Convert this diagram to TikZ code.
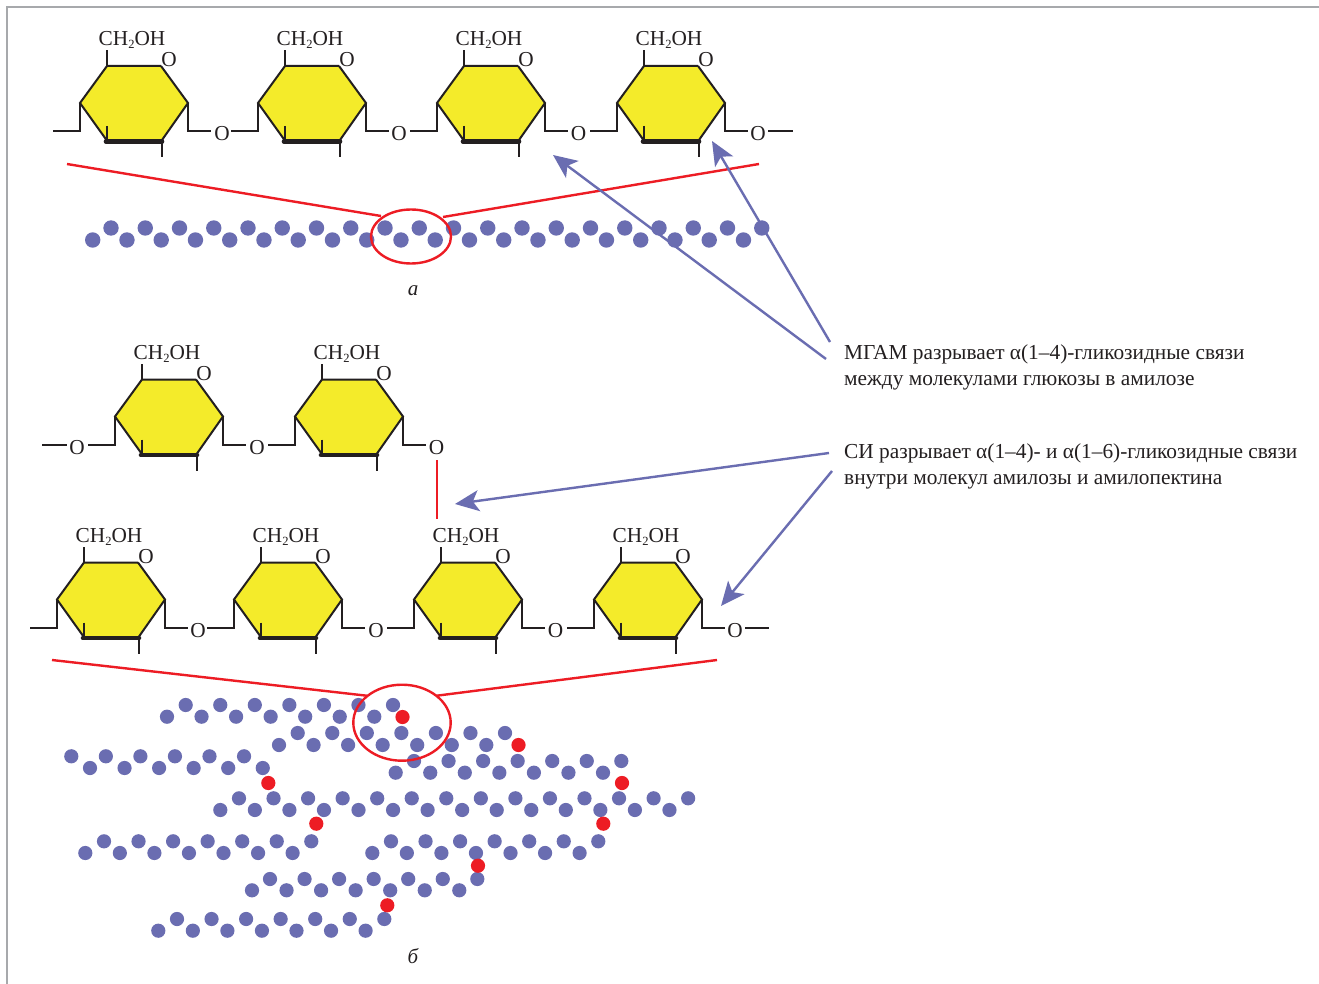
\documentclass[tikz,border=0pt]{standalone}
\usepackage{fontspec}
\setmainfont{Liberation Serif}
\usetikzlibrary{arrows.meta}
\definecolor{ink}{HTML}{231F20}
\definecolor{hexy}{HTML}{F4EB2A}
\definecolor{chred}{HTML}{ED1C24}
\definecolor{chblue}{HTML}{6A6DB1}
\definecolor{framegrey}{HTML}{A7A9AC}
\tikzset{
  bond/.style={draw=ink,line width=2pt,line join=miter},
  chemlabel/.style={inner sep=0pt,text=ink,font=\fontsize{21.3}{24}\selectfont,anchor=base},
  caption/.style={inner sep=0pt,text=ink,font=\fontsize{21.35}{24}\selectfont,anchor=base west},
  figtag/.style={inner sep=0pt,text=ink,font=\fontsize{21}{24}\selectfont\itshape,anchor=base},
  redline/.style={draw=chred,line width=2.4pt},
  pointer/.style={draw=chblue,line width=2.4pt,-{Stealth[length=24pt,width=21pt,inset=6pt]}},
  glc/.style={fill=chblue,draw=none},
  cut/.style={fill=chred,draw=none}
}
% ring with left edge at x=#1, vertical shift #2
\newcommand{\ring}[2]{%
 \begin{scope}[shift={(#1,#2)}]
  \fill[hexy] (27,66)--(81,66)--(108,103)--(82,140)--(26,140)--(0,103)--cycle;
  \draw[bond] (81,66)--(27,66)--(0,103)--(26.5,140);
  \draw[bond] (81,66)--(108,103)--(82,140);
  \draw[bond] (27,66)--(27,50);
  \draw[bond] (0,103)--(0,131)--(-27,131);
  \draw[bond] (26.5,126)--(26.5,141);
  \draw[bond] (82,140)--(82,157);
  \draw[bond] (108,103)--(108,131)--(131,131);
  \draw[draw=ink,line width=4.6pt,line cap=round] (26,141.5)--(82,141.5);
  \node[chemlabel] at (52,45.5) {CH\lower3.2pt\hbox{\fontsize{12.5}{12}\selectfont 2}OH};
  \node[chemlabel] at (89,67) {O};
 \end{scope}}
\newcommand{\bridgeO}[2]{\node[chemlabel] at (#1,#2) {O};}
% zigzag: #1 first x, #2 y, #3 count
\newcommand{\beads}[3]{\foreach \k in {1,...,#3}{\fill[glc] ({#1+34.55*(\k-1)},#2) circle (7.1);}}
\begin{document}
\begin{tikzpicture}[x=1pt,y=-1pt]
\useasboundingbox (0,0) rectangle (1319,984);
\fill[white] (0,0) rectangle (1319,984);
\draw[framegrey,line width=2.2pt] (7,984)--(7,6.8)--(1319,6.8);

% row a
\foreach \L in {80,258,437,617}{\ring{\L}{0}}
\foreach \X in {222,399,578.5,758}{\bridgeO{\X}{140.5}}
\draw[bond] (768,131)--(793,131);

% red zoom lines and chain a
\coordinate (aL0) at (67,164); \coordinate (aL1) at (381,216);
\coordinate (aR0) at (759,164); \coordinate (aR1) at (443,217);
\draw[redline] (aL0)--(aL1);
\draw[redline] (aR0)--(aR1);
\foreach \k in {0,...,19}{
  \fill[glc] ({92.7+34.25*\k},240) circle (7.7);
  \fill[glc] ({111+34.25*\k},228) circle (7.7);
}
\draw[redline] (411,236.5) ellipse (40 and 27);
\node[figtag] (taga) at (413,295) {а};

% row middle
\draw[bond] (42,444.5)--(67,444.5);
\bridgeO{77}{454}
\ring{115}{313.5}
\bridgeO{257}{454}
\ring{295}{313.5}
\node[chemlabel] (linkO) at (436.5,454) {O};
\coordinate (linkTop) at (437,460);
\coordinate (linkBot) at (437,519);
\draw[draw=chred,line width=2pt] (linkTop)--(linkBot);

% row lower
\foreach \L in {57,234,414,594}{\ring{\L}{496.5}}
\foreach \X in {198,376,555.5,735}{\bridgeO{\X}{637}}
\draw[bond] (745,627.5)--(769,627.5);

% red zoom lines b
\coordinate (bL0) at (52,660); \coordinate (bL1) at (366.7,695.7);
\coordinate (bR0) at (717,660); \coordinate (bR1) at (436.7,695.7);
\draw[redline] (bL0)--(bL1);
\draw[redline] (bR0)--(bR1);

% chains b
\beads{167}{716.7}{7}   \beads{185.7}{705}{7}
\beads{279}{745}{7}     \beads{297.7}{733}{7}
\beads{395.7}{772.7}{7} \beads{414}{761}{7}
\beads{90}{768}{6}      \beads{71.3}{756.3}{6}
\beads{220.3}{810}{14}  \beads{239}{798.3}{14}
\beads{85.3}{853}{7}    \beads{104}{841.3}{7}
\beads{372.3}{853}{7}   \beads{391}{841.3}{7}
\beads{252}{890.3}{7}   \beads{270}{879}{7}
\beads{158.3}{930.7}{7} \beads{177}{919}{7}
\foreach \x/\y in {402.5/717,518.5/745,622/783,268.3/783,316.3/823.7,603.3/823.7,478/865.7,387.3/905.3}{
  \fill[cut] (\x,\y) circle (7.1);
}
\draw[redline] (402,722.7) ellipse (48.7 and 38);
\node[figtag] (tagb) at (413,963) {б};

% captions
\node[caption] (mgam1) at (844,359) {МГАМ разрывает α(1–4)-гликозидные связи};
\node[caption] (mgam2) at (844,385) {между молекулами глюкозы в амилозе};
\node[caption] (si1) at (844,458.5) {СИ разрывает α(1–4)- и α(1–6)-гликозидные связи};
\node[caption] (si2) at (844,484) {внутри молекул амилозы и амилопектина};

% arrows
\coordinate (p1s) at (826,359); \coordinate (p1e) at (553,155);
\coordinate (p2s) at (830,342); \coordinate (p2e) at (712,141);
\coordinate (p3s) at (829,453); \coordinate (p3e) at (455,504);
\coordinate (p4s) at (832,471); \coordinate (p4e) at (721,606);
\draw[pointer] (p1s)--(p1e);
\draw[pointer] (p2s)--(p2e);
\draw[pointer] (p3s)--(p3e);
\draw[pointer] (p4s)--(p4e);
\end{tikzpicture}
\end{document}
